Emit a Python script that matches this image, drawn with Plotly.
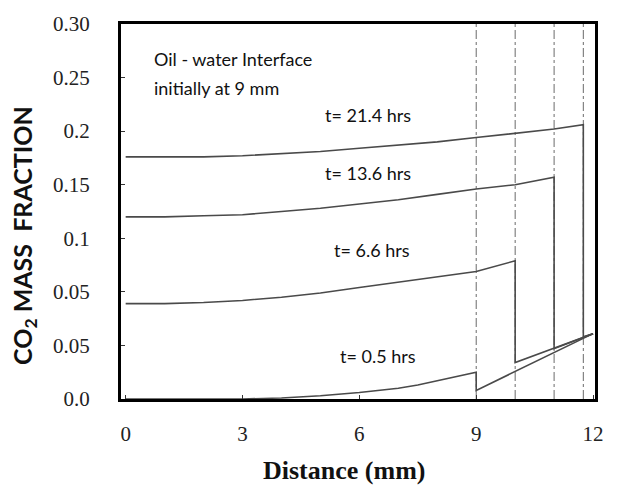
import plotly.graph_objects as go

# ---- data (y in axis units: ticks every 0.05; printed labels as in the original) ----
x_05 = [0, 1, 2, 3, 4, 5, 6, 7, 7.5, 8, 9, 9, 12]
y_05 = [0.0, 0.0, 0.0, 0.0, 0.001, 0.003, 0.006, 0.010, 0.013, 0.017, 0.025, 0.008, 0.061]

x_66 = [0, 1, 2, 3, 4, 5, 6, 7, 8, 9, 10, 10, 12]
y_66 = [0.089, 0.089, 0.090, 0.092, 0.095, 0.099, 0.104, 0.109, 0.114, 0.119, 0.129, 0.034, 0.061]

x_136 = [0, 1, 2, 3, 4, 5, 6, 7, 8, 9, 10, 11, 11, 12]
y_136 = [0.170, 0.170, 0.171, 0.172, 0.175, 0.178, 0.182, 0.186, 0.191, 0.196, 0.200, 0.207, 0.047, 0.061]

x_214 = [0, 1, 2, 3, 4, 5, 6, 7, 8, 9, 10, 11, 11.75, 11.75, 12]
y_214 = [0.226, 0.226, 0.226, 0.227, 0.229, 0.231, 0.234, 0.237, 0.240, 0.244, 0.248, 0.252, 0.256, 0.058, 0.061]

interfaces = [9, 10, 11, 11.75]

x_ticks = [0, 3, 6, 9, 12]
y_tickvals = [0, 0.05, 0.10, 0.15, 0.20, 0.25, 0.30, 0.35]
y_ticktext = ["0.0", "0.05", "0.05", "0.1", "0.15", "0.2", "0.25", "0.30"]

labels = ["t= 0.5 hrs", "t= 6.6 hrs", "t= 13.6 hrs", "t= 21.4 hrs"]

# ---- figure ----
fig = go.Figure()
line_style = dict(color="#4a4a4a", width=1.6)
for xs, ys, name in [(x_05, y_05, labels[0]), (x_66, y_66, labels[1]),
                     (x_136, y_136, labels[2]), (x_214, y_214, labels[3])]:
    fig.add_trace(go.Scatter(x=xs, y=ys, mode="lines", line=line_style,
                             name=name, showlegend=False, hoverinfo="skip"))

for xi in interfaces:
    fig.add_shape(type="line", x0=xi, x1=xi, y0=0, y1=0.35, xref="x", yref="y",
                  line=dict(color="#6a6a6a", width=1, dash="dashdot"), layer="below")

sans = "Lato, Open Sans, sans-serif"
ann_font = dict(family=sans, size=18, color="#111")
fig.add_annotation(x=0.68, y=0.317, text="Oil - water Interface", showarrow=False,
                   xanchor="left", yanchor="middle", font=dict(family=sans, size=18, color="#111"))
fig.add_annotation(x=0.68, y=0.290, text="initially at 9 mm", showarrow=False,
                   xanchor="left", yanchor="middle", font=dict(family=sans, size=18, color="#111"))
label_pos = [(5.45, 0.040), (5.30, 0.139), (5.07, 0.211), (5.07, 0.265)]
for (lx, ly), txt in zip(label_pos, labels):
    fig.add_annotation(x=lx, y=ly, text=txt, showarrow=False, xanchor="left",
                       yanchor="middle", font=ann_font)

# axis titles as annotations (positioned like the original)
fig.add_annotation(xref="paper", yref="paper", x=-0.205, y=0.437,
                   text="<b>CO<sub>2</sub> MASS  FRACTION</b>", textangle=-90, showarrow=False,
                   xanchor="center", yanchor="middle",
                   font=dict(family=sans, size=25, color="#111"))
fig.add_annotation(xref="paper", yref="paper", x=0.47, y=-0.19,
                   text="<b>Distance (mm)</b>", showarrow=False,
                   xanchor="center", yanchor="middle",
                   font=dict(family="Liberation Serif, Times New Roman, serif", size=26, color="#111"))

tick_font = dict(family="Liberation Serif, Times New Roman, serif", size=21, color="#222")
fig.update_xaxes(range=[-0.12, 12.05], tickvals=x_ticks, ticktext=[str(v) for v in x_ticks],
                 ticks="inside", ticklen=4, tickcolor="#333", showgrid=False, zeroline=False,
                 showline=True, linecolor="black", linewidth=3, mirror=True,
                 tickfont=tick_font, ticklabelstandoff=14)
fig.update_yaxes(range=[0, 0.35], tickvals=y_tickvals, ticktext=y_ticktext,
                 ticks="inside", ticklen=4, tickcolor="#333", showgrid=False, zeroline=False,
                 showline=True, linecolor="black", linewidth=3, mirror=True,
                 tickfont=tick_font, ticklabelstandoff=24)

fig.update_layout(width=624, height=497, margin=dict(l=121, r=29, t=17, b=98),
                  plot_bgcolor="white", paper_bgcolor="white", showlegend=False)

fig.write_html("out.html")
